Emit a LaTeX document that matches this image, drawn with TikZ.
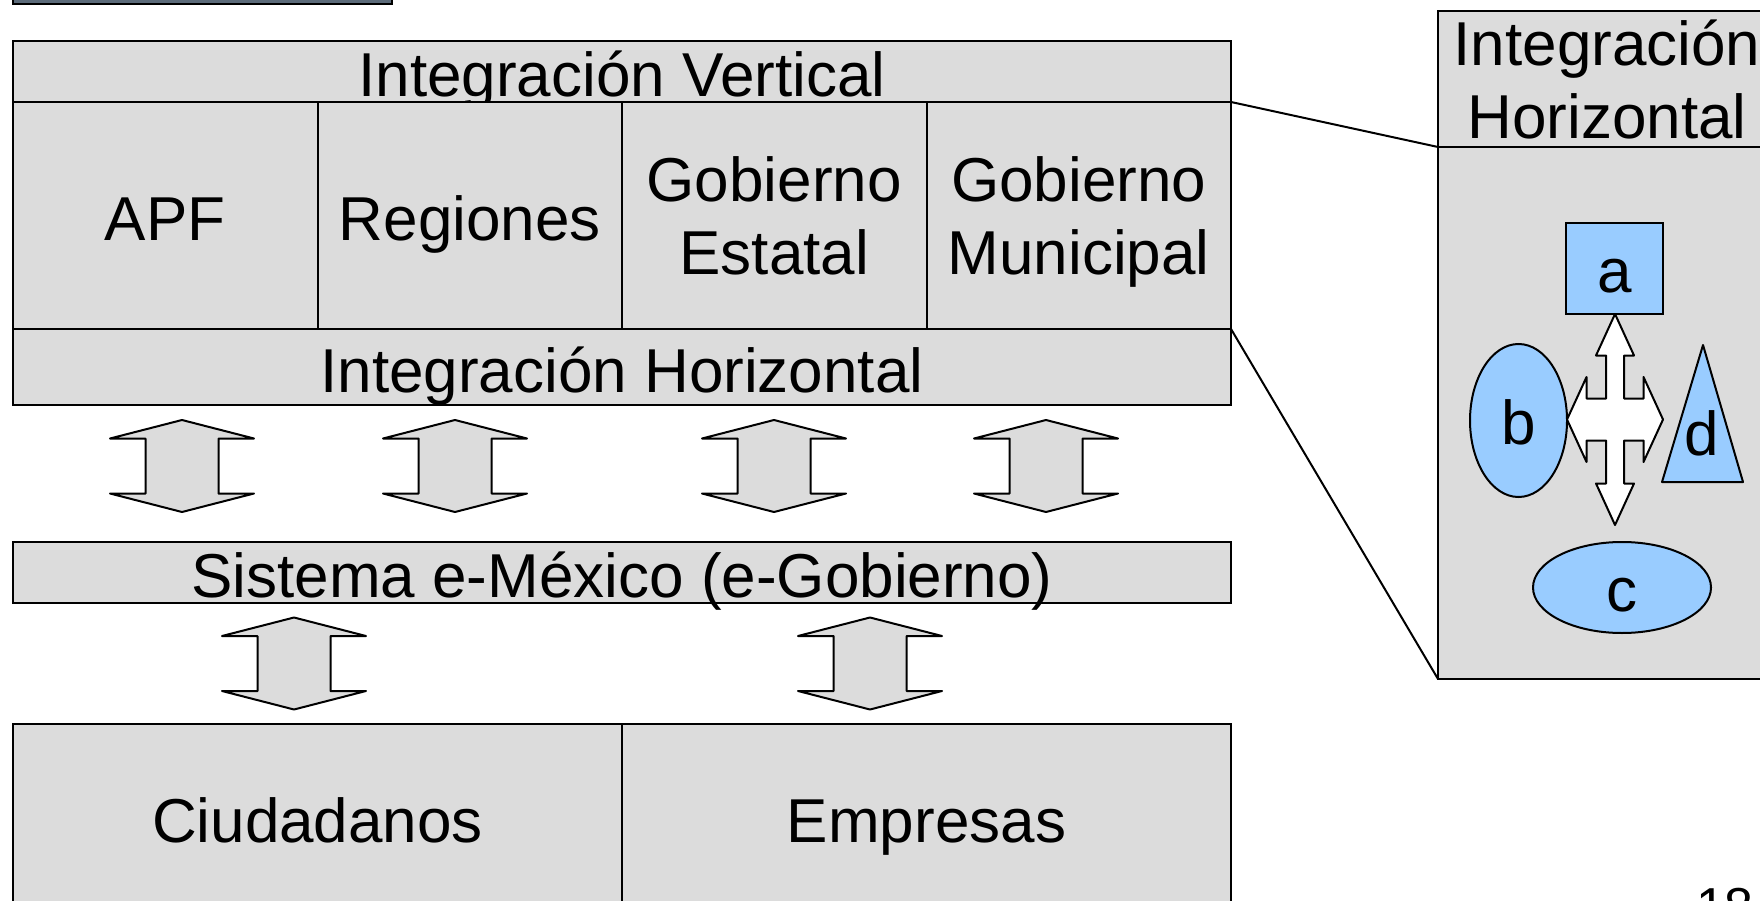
\documentclass[tikz,border=0pt]{standalone}
\usepackage{fontspec}
\setmainfont{Liberation Sans}
\usetikzlibrary{shapes.geometric}

\definecolor{cellgray}{RGB}{220,220,220}
\definecolor{shapeblue}{RGB}{153,204,255}
\definecolor{titleslate}{RGB}{92,107,122}

\tikzset{
  cell/.style={draw, fill=cellgray, inner sep=0pt, outer sep=0pt, text height=50pt, text depth=0pt},
  cellm/.style={draw, fill=cellgray, inner sep=0pt, outer sep=0pt, align=center, text depth=0pt},
  blob/.style={draw, fill=shapeblue, inner sep=0pt, outer sep=0pt, text height=48pt, text depth=0pt},
  updown/.pic={
    \draw[fill=cellgray, line join=round] (0,-46) -- (72,-27.5) -- (36.5,-27.5) -- (36.5,27.5) -- (72,27.5)
      -- (0,46) -- (-72,27.5) -- (-36.5,27.5) -- (-36.5,-27.5) -- (-72,-27.5) -- cycle;
  }
}

\begin{document}
\begin{tikzpicture}[x=1pt,y=-1pt,line width=2pt,font=\fontsize{62}{73}\selectfont]
\useasboundingbox (0,0) rectangle (1760,901);

% title bar, cut by the page
\draw[fill=titleslate] (13,-30) rectangle (392,4);

% upper block
\node[cell, minimum width=1218pt, minimum height=61pt] (vert) at (622,71.5) {Integración Vertical};
\node[cell, anchor=north west, minimum width=304.5pt, minimum height=227pt] (apf) at (vert.south west) {APF};
\node[cell, anchor=north west, minimum width=304.5pt, minimum height=227pt] (reg) at (apf.north east) {Regiones};
\node[cellm, anchor=north west, minimum width=304.5pt, minimum height=227pt] (est) at (reg.north east) {Gobierno\\Estatal};
\node[cellm, anchor=north west, minimum width=304.5pt, minimum height=227pt] (mun) at (est.north east) {Gobierno\\Municipal};
\node[cell, anchor=north west, minimum width=1218pt, minimum height=76pt] (hor) at (apf.south west) {Integración Horizontal};

\foreach \x in {182,455,774,1046}
  \pic at (\x,466) {updown};

\node[cell, minimum width=1218pt, minimum height=61pt] (sys) at (622,572.5) {Sistema e-México (e-Gobierno)};

\foreach \x in {294,870}
  \pic at (\x,663.5) {updown};

% users
\node[cell, anchor=north west, minimum width=609pt, minimum height=186pt] (ciu) at (13,724) {Ciudadanos};
\node[cell, anchor=north west, minimum width=609pt, minimum height=186pt] (emp) at (ciu.north east) {Empresas};

% zoomed panel
\node[cellm, anchor=north west, minimum width=338pt, minimum height=136pt] (phead) at (1438,11) {Integración\\Horizontal};
\node[cellm, anchor=north west, minimum width=338pt, minimum height=532pt] (pbody) at (phead.south west) {};

\draw (mun.north east) -- (phead.south west);
\draw (hor.north east) -- (pbody.south west);

\node[blob, minimum width=97pt, minimum height=91pt] (a) at (1614.5,268.5) {a};
\node[blob, ellipse, minimum width=97pt, minimum height=153pt] (b) at (1518.5,420.5) {b};
\node[blob, ellipse, minimum width=178pt, minimum height=91pt] (c) at (1622,587.5) {c};
\draw[fill=shapeblue, line join=round] (1703,345) -- (1743,482) -- (1662,482) -- cycle;
\node[text height=48pt, text depth=0pt, inner sep=0pt] (d) at (1702,431) {d};

\begin{scope}[shift={(1615,419.5)}, line join=round]
\draw[fill=white] (0,-105.5) -- (19,-64) -- (9,-64) -- (9,-21) -- (28.5,-21) -- (28.5,-42.5)
  -- (48,0) -- (28.5,42.5) -- (28.5,21) -- (9,21) -- (9,64) -- (19,64) -- (0,105.5)
  -- (-19,64) -- (-9,64) -- (-9,21) -- (-28.5,21) -- (-28.5,42.5) -- (-48,0)
  -- (-28.5,-42.5) -- (-28.5,-21) -- (-9,-21) -- (-9,-64) -- (-19,-64) -- cycle;
\end{scope}

% page number
\node[anchor=north west, inner sep=0pt, font=\fontsize{52}{60}\selectfont] (pnum) at (1695,887) {18};

\end{tikzpicture}
\end{document}
